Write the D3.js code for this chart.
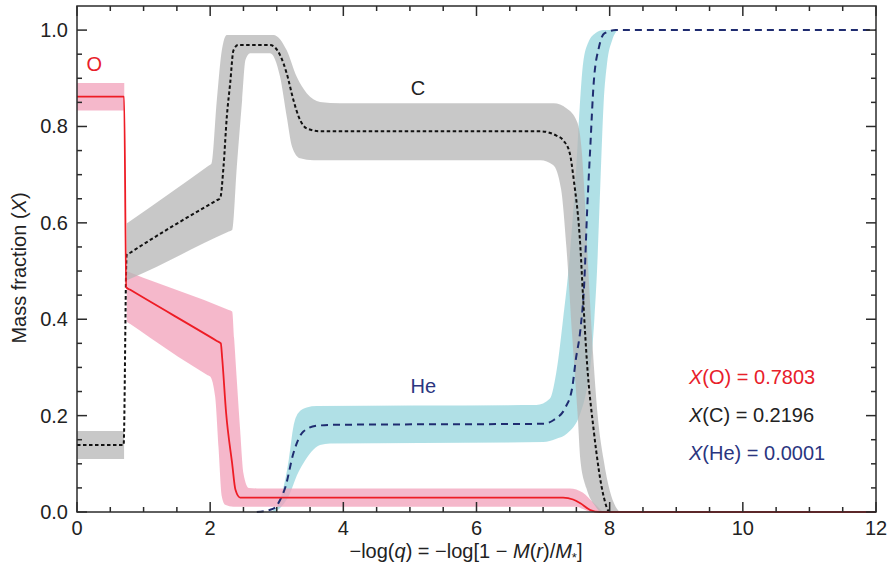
<!DOCTYPE html>
<html><head><meta charset="utf-8">
<script src="https://cdn.jsdelivr.net/npm/d3@7/dist/d3.min.js"></script>
<style>body{margin:0;background:#fff}svg{display:block}text{font-family:"Liberation Sans",Arial,Helvetica,sans-serif}</style>
</head><body>
<svg id="chart" width="893" height="574"></svg>
<script>
// ---- data ----
const xTicks = [0, 2, 4, 6, 8, 10, 12];
const yTicks = [0, 0.2, 0.4, 0.6, 0.8, 1.0];

// Oxygen (red)
const oRect = [[0, 0.833, 0.89], [0.71, 0.833, 0.89]];
const oLine = [[0,0.862],[0.707,0.862],[0.74,0.466],[0.8,0.461],[2.1,0.355],[2.16,0.35],[2.18,0.32],[2.24,0.205],[2.33,0.101],[2.38,0.046],[2.45,0.030],[7.3,0.030],[7.45,0.026],[7.56,0.018],[7.71,0.004],[7.85,0],[12,0]];
const oUpper = [[0.747,0.50],[0.8,0.497],[2.28,0.419],[2.33,0.416],[2.36,0.36],[2.40,0.274],[2.45,0.17],[2.50,0.08],[2.58,0.05],[2.7,0.049],[7.4,0.049],[7.6,0.04],[7.75,0.02],[7.9,0.0]];
const oLower = [[0.747,0.395],[0.8,0.39],[1.95,0.285],[2.0,0.281],[2.075,0.239],[2.125,0.135],[2.175,0.032],[2.225,0.015],[2.35,0.011],[7.5,0.011],[7.6,0.006],[7.7,0.0]];

// Carbon (black / grey)
const cRect = [[0, 0.11, 0.168], [0.707, 0.11, 0.168]];
const cLine = [[0,0.139],[0.70,0.139],[0.745,0.533],[0.8,0.538],[2.1,0.647],[2.15,0.651],[2.2,0.716],[2.25,0.82],[2.3,0.889],[2.35,0.958],[2.42,0.969],[2.9,0.969],[3.05,0.948],[3.15,0.91],[3.25,0.855],[3.33,0.82],[3.45,0.796],[3.65,0.79],[6.96,0.79],[7.2,0.781],[7.31,0.77],[7.4,0.745],[7.46,0.69],[7.56,0.55],[7.60,0.447],[7.66,0.309],[7.76,0.17],[7.91,0.032],[8.0,0],[8.1,0]];
const cUpper = [[0.747,0.599],[0.8,0.604],[1.97,0.718],[2.02,0.723],[2.10,0.855],[2.175,0.958],[2.25,0.99],[2.95,0.99],[3.15,0.958],[3.30,0.903],[3.45,0.869],[3.65,0.851],[3.95,0.848],[7.16,0.848],[7.35,0.838],[7.51,0.81],[7.58,0.75],[7.61,0.69],[7.68,0.5],[7.75,0.33],[7.82,0.2],[7.91,0.108],[8.0,0.045],[8.09,0.011],[8.15,0]];
const cLower = [[0.747,0.481],[0.8,0.484],[2.28,0.582],[2.33,0.585],[2.40,0.716],[2.48,0.855],[2.53,0.938],[2.6,0.952],[2.9,0.952],[3.05,0.903],[3.15,0.82],[3.23,0.758],[3.35,0.734],[3.55,0.730],[6.96,0.73],[7.15,0.72],[7.27,0.67],[7.35,0.55],[7.44,0.36],[7.52,0.2],[7.56,0.108],[7.65,0.05],[7.79,0.011],[7.85,0]];

// Helium (navy / cyan)
const heLine = [[2.7,0],[2.95,0.007],[3.05,0.025],[3.13,0.052],[3.25,0.122],[3.4,0.167],[3.6,0.179],[3.9,0.181],[7.0,0.183],[7.16,0.191],[7.34,0.218],[7.44,0.26],[7.49,0.315],[7.56,0.378],[7.62,0.48],[7.66,0.62],[7.71,0.76],[7.76,0.89],[7.84,0.965],[7.92,0.993],[8.09,1.0],[12,1.0]];
const heUpper = [[2.9,0],[2.95,0.004],[3.08,0.039],[3.18,0.108],[3.25,0.177],[3.32,0.205],[3.45,0.217],[3.6,0.22],[6.9,0.222],[7.1,0.235],[7.21,0.3],[7.3,0.4],[7.38,0.5],[7.45,0.62],[7.5,0.72],[7.55,0.84],[7.6,0.93],[7.68,0.975],[7.8,0.995],[7.9,1.0]];
const heLower = [[2.98,0],[3.2,0.039],[3.3,0.075],[3.4,0.101],[3.52,0.125],[3.65,0.139],[3.8,0.142],[7.0,0.145],[7.2,0.152],[7.36,0.163],[7.56,0.205],[7.65,0.25],[7.71,0.3],[7.77,0.4],[7.81,0.5],[7.86,0.68],[7.91,0.85],[7.96,0.93],[8.04,0.98],[8.12,1.0]];

const labels = [{t:"O", x:0.26, y:0.915, c:"#e8202a"}, {t:"C", x:5.12, y:0.865, c:"#222"}, {t:"He", x:5.2, y:0.247, c:"#2a3580"}];
const legend = [{el:"O", v:"0.7803", c:"#e8202a"}, {el:"C", v:"0.2196", c:"#222"}, {el:"He", v:"0.0001", c:"#2a3580"}];

// ---- drawing ----
const svg = d3.select("#chart");
const m = {l:77, r:876, t:6, b:512};
const x = d3.scaleLinear().domain([0,12]).range([m.l, m.r]);
const y = d3.scaleLinear().domain([0,1.05]).range([m.b, m.t]);

const line = d3.line().x(d=>x(d[0])).y(d=>y(d[1])).curve(d3.curveMonotoneX);
function bandPath(up, low){
  const a = line(up);
  const b = line(low.slice().reverse());
  return a + "L" + b.slice(1) + "Z";
}
const rectArea = d3.area().x(d=>x(d[0])).y0(d=>y(d[1])).y1(d=>y(d[2]));

const g = svg.append("g");
const op = 0.75;
// bands
g.append("path").attr("d", rectArea(oRect)).attr("fill","#f2a0ba").attr("fill-opacity",op);
g.append("path").attr("d", rectArea(cRect)).attr("fill","#b6b6b6").attr("fill-opacity",op);
g.append("path").attr("d", bandPath(heUpper, heLower)).attr("fill","#96d6de").attr("fill-opacity",op);
g.append("path").attr("d", bandPath(oUpper, oLower)).attr("fill","#f2a0ba").attr("fill-opacity",op);
g.append("path").attr("d", bandPath(cUpper, cLower)).attr("fill","#b6b6b6").attr("fill-opacity",op);

// axes frame and ticks
const ax = svg.append("g").attr("stroke","#2b2b2b").attr("stroke-width",1.5);
ax.append("rect").attr("x",m.l).attr("y",m.t).attr("width",m.r-m.l).attr("height",m.b-m.t).attr("fill","none");
const xMinor = d3.range(0, 12.01, 0.5), yMinor = d3.range(0, 1.051, 0.05);
xMinor.forEach(v=>{
  const major = Math.abs(v/2 - Math.round(v/2))<1e-6;
  const L = major?10:5;
  ax.append("line").attr("x1",x(v)).attr("x2",x(v)).attr("y1",m.b).attr("y2",m.b-L);
  ax.append("line").attr("x1",x(v)).attr("x2",x(v)).attr("y1",m.t).attr("y2",m.t+L);
});
yMinor.forEach(v=>{
  if (v>1.04) return;
  const major = Math.abs(v/0.2 - Math.round(v/0.2))<1e-6;
  const L = major?10:5;
  ax.append("line").attr("y1",y(v)).attr("y2",y(v)).attr("x1",m.l).attr("x2",m.l+L);
  ax.append("line").attr("y1",y(v)).attr("y2",y(v)).attr("x1",m.r).attr("x2",m.r-L);
});

// lines
g.append("path").attr("d", line(heLine)).attr("fill","none").attr("stroke","#1f2c70").attr("stroke-width",2).attr("stroke-dasharray","7,5");
g.append("path").attr("d", line(cLine)).attr("fill","none").attr("stroke","#111").attr("stroke-width",2).attr("stroke-dasharray","3.5,2.5");
g.append("path").attr("d", line(oLine)).attr("fill","none").attr("stroke","#ee1c25").attr("stroke-width",1.8);

// tick labels
const tl = svg.append("g").attr("font-size",20).attr("fill","#222");
xTicks.forEach(v=>tl.append("text").attr("x",x(v)).attr("y",m.b+23).attr("text-anchor","middle").text(v));
yTicks.forEach(v=>tl.append("text").attr("x",m.l-9).attr("y",y(v)).attr("dy","0.35em").attr("text-anchor","end").text(d3.format(".1f")(v)));

// axis titles
const xt = svg.append("text").attr("x",466).attr("y",558).attr("text-anchor","middle").attr("font-size",20).attr("fill","#222");
xt.append("tspan").text("\u2212log(");
xt.append("tspan").attr("font-style","italic").text("q");
xt.append("tspan").text(") = \u2212log[1 \u2212 ");
xt.append("tspan").attr("font-style","italic").text("M");
xt.append("tspan").text("(");
xt.append("tspan").attr("font-style","italic").text("r");
xt.append("tspan").text(")/");
xt.append("tspan").attr("font-style","italic").text("M");
xt.append("tspan").attr("font-size",13).attr("dy",4).text("*");
xt.append("tspan").attr("dy",-4).text("]");

const yt = svg.append("text").attr("transform","translate(26,268) rotate(-90)").attr("text-anchor","middle").attr("font-size",20).attr("fill","#222");
yt.append("tspan").text("Mass fraction (");
yt.append("tspan").attr("font-style","italic").text("X");
yt.append("tspan").text(")");

// series labels
labels.forEach(d=>svg.append("text").attr("x",x(d.x)).attr("y",y(d.y)).attr("font-size",20).attr("fill",d.c).attr("text-anchor","middle").text(d.t));

// legend
legend.forEach((d,i)=>{
  const t = svg.append("text").attr("x",689).attr("y",384+i*38).attr("font-size",20).attr("fill",d.c);
  t.append("tspan").attr("font-style","italic").text("X");
  t.append("tspan").text("("+d.el+") = "+d.v);
});
</script>
</body></html>
